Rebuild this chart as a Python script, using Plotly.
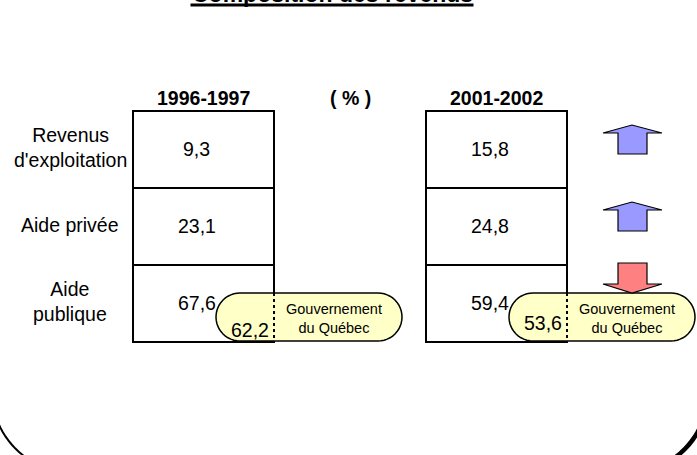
import math
import plotly.graph_objects as go

# ---------------- data ----------------
title = "Composition des revenus"
periods = ["1996-1997", "2001-2002"]
unit_label = "( % )"
categories = ["Revenus<br>d'exploitation", "Aide privée", "Aide<br>publique"]
share_1996 = [9.3, 23.1, 67.6]
share_2001 = [15.8, 24.8, 59.4]
gov_quebec = [62.2, 53.6]          # part du Gouvernement du Québec (aide publique)
gov_label = "Gouvernement<br>du Québec"

# ---------------- layout constants ----------------
W, H = 697, 455
FONT = "Liberation Sans, Arial, sans-serif"
box_left = [133, 426]
box_w = 141
top = 111
row_h = 77
label_x = 70
arrow_x = 632
pill_dy = [13, 6]

def fmt(v):
    return f"{v:.1f}".replace(".", ",")

def arc(cx, cy, r, a0, a1, n=24):
    pts = []
    for k in range(n + 1):
        a = math.radians(a0 + (a1 - a0) * k / n)
        pts.append((cx + r * math.cos(a), cy + r * math.sin(a)))
    return pts

def path_from(pts, close=False):
    s = "M " + " L ".join(f"{x:.2f},{y:.2f}" for x, y in pts)
    return s + (" Z" if close else "")

fig = go.Figure()
shapes = []
ann = []

# outer rounded frame (only lower part visible)
L, R, B, r = -8, 707, 472, 80
frame = [(L, -20), (L, B - r)] + arc(L + r, B - r, r, 180, 90) + [(R - r, B)] + arc(R - r, B - r, r, 90, 0) + [(R, -20)]
shapes.append(dict(type="path", path=path_from(frame), line=dict(color="black", width=2)))
shapes.append(dict(type="path", path=path_from(arc(R - r, B - r, r + 1.5, 100, -10)),
                   line=dict(color="black", width=4)))

series = [share_1996, share_2001]
for p, vals in enumerate(series):
    x0 = box_left[p]
    x1 = x0 + box_w
    xc = (x0 + x1) / 2
    for i, v in enumerate(vals):
        y0 = top + i * row_h
        y1 = y0 + row_h
        shapes.append(dict(type="rect", x0=x0, x1=x1, y0=y0, y1=y1,
                           line=dict(color="black", width=2), fillcolor="white", layer="above"))
        ann.append(dict(x=xc - 7, y=(y0 + y1) / 2 - 1, text=fmt(v),
                        font=dict(size=19.5, color="black", family=FONT)))
    # header
    ann.append(dict(x=xc, y=98, text=f"<b>{periods[p]}</b>",
                    font=dict(size=19.5, color="black", family=FONT)))
    # Gouvernement du Québec pill
    pt, pb = 293, 341
    pr = (pb - pt) / 2
    pc = (pt + pb) / 2
    px0, px1 = x1 - 58, x1 + 128
    pill = [(px0 + pr, pt), (px1 - pr, pt)] + arc(px1 - pr, pc, pr, -90, 90) + [(px0 + pr, pb)] + arc(px0 + pr, pc, pr, 90, 270)
    shapes.append(dict(type="path", path=path_from(pill, True), fillcolor="#FFFFC8",
                       line=dict(color="black", width=1.5)))
    shapes.append(dict(type="line", x0=x1, x1=x1, y0=pt, y1=pb,
                       line=dict(color="black", width=2, dash="dot")))
    ann.append(dict(x=x1 - 24, y=pc + pill_dy[p], text=fmt(gov_quebec[p]),
                    font=dict(size=19.5, color="black", family=FONT)))
    ann.append(dict(x=x1 + 60, y=pc + 1, text=gov_label,
                    font=dict(size=14.5, color="black", family=FONT)))

ann.append(dict(x=(box_left[0] + box_left[1] + box_w) / 2, y=98, text=f"<b>{unit_label}</b>",
                font=dict(size=19.5, color="black", family=FONT)))

# row labels and change arrows
for i, cat in enumerate(categories):
    y0 = top + i * row_h
    ann.append(dict(x=label_x, y=y0 + row_h / 2 - 2, text=cat,
                    font=dict(size=19.5, color="black", family=FONT)))
    up = share_2001[i] > share_1996[i]
    sx0, sx1 = arrow_x - 14, arrow_x + 15
    wx0, wx1 = arrow_x - 29, arrow_x + 30
    if up:
        tip, wing, bot = y0 + 14, y0 + 22, y0 + 43
        pts = [(sx0, bot), (sx0, wing), (wx0, wing), (arrow_x, tip), (wx1, wing), (sx1, wing), (sx1, bot)]
        col = "#9999FF"
    else:
        tp, wing, tip = y0 - 2, y0 + 19, y0 + 28
        pts = [(sx0, tp), (sx0, wing), (wx0, wing), (arrow_x, tip), (wx1, wing), (sx1, wing), (sx1, tp)]
        col = "#FF8080"
    shapes.append(dict(type="path", path=path_from(pts, True), fillcolor=col,
                       line=dict(color="black", width=1.2)))

for a in ann:
    a.update(xref="x", yref="y", showarrow=False, xanchor="center", yanchor="middle")

# title (cut at top) with underline — paper-referenced so it is not hidden
tx = 332
ann.append(dict(x=tx / W, y=1 + 6 / H, xref="paper", yref="paper", showarrow=False,
                xanchor="center", yanchor="middle", text=f"<b>{title}</b>",
                font=dict(size=23, color="black", family=FONT)))
shapes.append(dict(type="line", x0=tx - 141.5, x1=tx + 141.5, y0=5, y1=5,
                   line=dict(color="black", width=3)))

fig.update_layout(
    width=W, height=H, margin=dict(l=0, r=0, t=0, b=0),
    paper_bgcolor="white", plot_bgcolor="white", showlegend=False,
    xaxis=dict(range=[0, W], visible=False, fixedrange=True),
    yaxis=dict(range=[H, 0], visible=False, fixedrange=True),
    shapes=shapes, annotations=ann,
)
fig.write_html("out.html", config={"displayModeBar": False},
               post_script="document.body.style.margin='0';document.body.style.overflow='hidden';")
